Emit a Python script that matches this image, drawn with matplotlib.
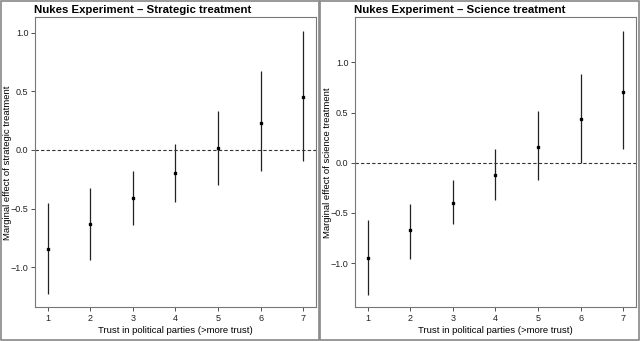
import matplotlib.pyplot as plt
from matplotlib.patches import Rectangle

plt.rcParams['font.family'] = ['Liberation Sans', 'DejaVu Sans']

trust = [1, 2, 3, 4, 5, 6, 7]

strat_est = [-0.84, -0.63, -0.41, -0.20, 0.02, 0.23, 0.45]
strat_lo = [-1.23, -0.94, -0.64, -0.44, -0.30, -0.18, -0.09]
strat_hi = [-0.45, -0.32, -0.18, 0.05, 0.33, 0.67, 1.01]

sci_est = [-0.95, -0.67, -0.40, -0.12, 0.16, 0.44, 0.71]
sci_lo = [-1.32, -0.96, -0.61, -0.37, -0.17, 0.00, 0.14]
sci_hi = [-0.57, -0.41, -0.17, 0.14, 0.52, 0.89, 1.31]

yticks = [-1.0, -0.5, 0.0, 0.5, 1.0]

fig = plt.figure(figsize=(6.4, 3.41), dpi=100)

panels = [
    ("Nukes Experiment \u2013 Strategic treatment", "Marginal effect of strategic treatment",
     strat_est, strat_lo, strat_hi, (-1.34, 1.13), 0.0552),
    ("Nukes Experiment \u2013 Science treatment", "Marginal effect of science treatment",
     sci_est, sci_lo, sci_hi, (-1.44, 1.45), 0.5552),
]

for title, ylab, est, lo, hi, ylim, left in panels:
    ax = fig.add_axes([left, 0.0988, 0.4386, 0.8504])
    ax.vlines(trust, lo, hi, color='#222222', lw=0.9)
    ax.plot(trust, est, 's', color='black', ms=1.8)
    ax.axhline(0, color='#333333', lw=0.8, ls=(0, (3, 2)))
    ax.set_xlim(0.71, 7.3)
    ax.set_ylim(*ylim)
    ax.set_xticks(trust)
    ax.set_yticks(yticks)
    ax.set_yticklabels(['\u22121.0', '\u22120.5', '0.0', '0.5', '1.0'])
    ax.tick_params(labelsize=6.5, length=3, width=0.6, color='#333333',
                   labelcolor='#222222', pad=2)
    for s in ax.spines.values():
        s.set_color('#777777')
        s.set_linewidth(0.8)
    ax.set_xlabel("Trust in political parties (>more trust)", fontsize=6.8, labelpad=2)
    ax.set_ylabel(ylab, fontsize=6.8)
    ax.yaxis.set_label_coords(-0.082, 0.5)
    ax.set_title(title, fontsize=8.2, fontweight='bold', loc='left', pad=3, x=-0.003)

# panel borders
fig.patches.append(Rectangle((0.001, 0.002), 0.497, 0.996, transform=fig.transFigure,
                             fill=False, edgecolor='#888888', lw=1.2))
fig.patches.append(Rectangle((0.5, 0.002), 0.498, 0.996, transform=fig.transFigure,
                             fill=False, edgecolor='#888888', lw=1.2))

fig.savefig("out.png", dpi=100)
